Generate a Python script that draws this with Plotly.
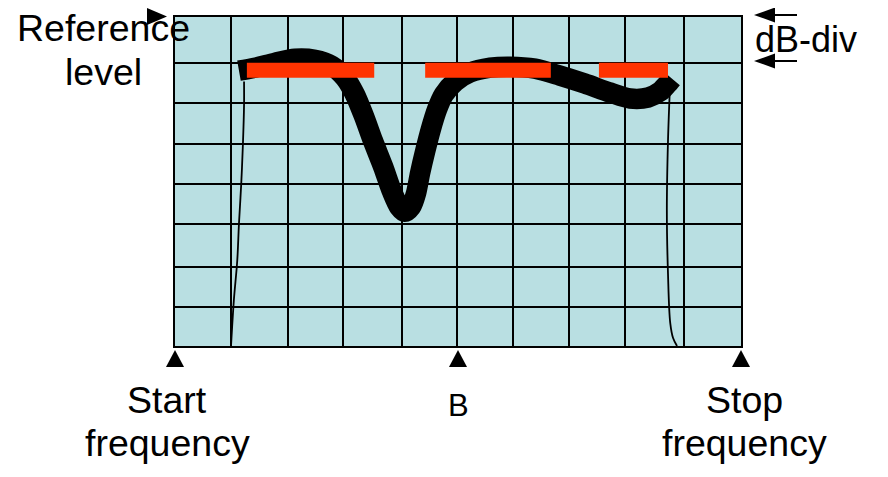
import plotly.graph_objects as go

# ---------------- data ----------------
# x: frequency in screen divisions (0 = start, 10 = stop); y: level in dB below reference (10 dB/div)
trace_x = [1.13, 1.41, 1.77, 2.12, 2.47, 2.77, 3.00, 3.18, 3.34, 3.50, 3.68, 3.83, 3.96, 4.06,
           4.17, 4.26, 4.33, 4.42, 4.52, 4.63, 4.75, 4.95, 5.21, 5.57, 5.92, 6.36, 6.80, 7.24,
           7.69, 8.04, 8.36, 8.57, 8.69, 8.78]
trace_db = [-13.05, -12.33, -11.12, -10.15, -10.39, -11.84, -14.74, -18.85, -24.17, -30.21,
            -36.50, -42.30, -46.16, -47.37, -46.16, -42.78, -37.95, -32.63, -27.31, -22.48,
            -18.85, -15.71, -13.53, -12.33, -12.08, -12.57, -14.26, -16.19, -18.37, -19.82,
            -19.58, -18.13, -16.44, -14.98]

left_skirt_x = [0.99, 1.04, 1.10, 1.13, 1.17, 1.20, 1.22, 1.22]
left_skirt_db = [-80.0, -68.88, -59.21, -50.27, -40.60, -30.94, -21.27, -15.71]

right_skirt_x = [8.75, 8.71, 8.69, 8.71, 8.75, 8.80, 8.87]
right_skirt_db = [-15.23, -30.21, -47.13, -62.36, -74.44, -78.07, -80.0]

limit_start = [1.27, 4.42, 7.49]
limit_stop = [3.52, 6.64, 8.71]
limit_level = [-12.93, -12.93, -12.93]

freq_marker_x = [0, 5, 10]
freq_marker_labels = ["Start\nfrequency", "B", "Stop\nfrequency"]

ref_label = "Reference\nlevel"
div_label = "dB-div"

# ---------------- style / layout constants ----------------
OFF = 8                      # default page margin around the figure
PAGE_W, PAGE_H = 888, 477
W, H = PAGE_W - OFF, PAGE_H - OFF
PL, PR, PT, PB = 175, 741, 15, 346   # plot area in page pixels
L, T = PL - OFF, PT - OFF
R, B = PAGE_W - PR, PAGE_H - PB
PW, PH = PR - PL, PB - PT
X_RANGE = [0, 10]
Y_RANGE = [-80, 0]
BG = "#B9DFE2"
RED = "#FF3300"
FONT = "Liberation Sans, Arial, sans-serif"
x_grid = [0, 0.99, 2.0, 2.97, 4.01, 4.98, 5.97, 6.96, 7.95, 8.99, 10]
y_grid = [0, -11.12, -21.03, -30.94, -40.60, -50.27, -60.91, -70.57, -80]


def px_x(px):
    return (px - PL) / PW


def px_y(py):
    return (PB - py) / PH


def data_to_paper_x(v):
    return (v - X_RANGE[0]) / (X_RANGE[1] - X_RANGE[0])


fig = go.Figure()

fig.add_trace(go.Scatter(x=left_skirt_x, y=left_skirt_db, mode="lines",
                         line=dict(color="black", width=1.8, shape="spline"),
                         hoverinfo="skip", showlegend=False))
fig.add_trace(go.Scatter(x=right_skirt_x, y=right_skirt_db, mode="lines",
                         line=dict(color="black", width=1.8, shape="spline"),
                         hoverinfo="skip", showlegend=False))
fig.add_trace(go.Scatter(x=trace_x, y=trace_db, mode="lines",
                         line=dict(color="black", width=20.5, shape="spline", smoothing=0.8),
                         hoverinfo="skip", showlegend=False))
for xs, xe, lv in zip(limit_start, limit_stop, limit_level):
    fig.add_trace(go.Scatter(x=[xs, xe], y=[lv, lv], mode="lines",
                             line=dict(color=RED, width=15),
                             hoverinfo="skip", showlegend=False))

shapes = []


def pix_path(points, xanchor=0.0, fill="black", line_w=0, closed=True):
    # points given as pixel offsets relative to anchor (y up)
    d = "M" + " L".join(f"{a},{b}" for a, b in points) + (" Z" if closed else "")
    return dict(type="path", xref="paper", yref="paper", xsizemode="pixel", ysizemode="pixel",
                xanchor=xanchor, yanchor=0, path=d,
                fillcolor=fill if closed else None,
                line=dict(color="black", width=line_w), layer="above")


def abs_pts(pts):
    return [(px - PL, PB - py) for px, py in pts]


# reference-level arrow head
shapes.append(pix_path(abs_pts([(167, 16.5), (147, 8), (147, 25)])))
# dB-div arrows
for yy in (15, 61):
    shapes.append(pix_path(abs_pts([(754, yy), (775, yy - 7.5), (775, yy + 7.5)])))
    shapes.append(pix_path(abs_pts([(772, yy), (797, yy)]), fill=None, line_w=2, closed=False))
# frequency markers (up triangles below the grid)
for fx in freq_marker_x:
    shapes.append(pix_path([(0, -4), (-9, -21), (9, -21)], xanchor=data_to_paper_x(fx)))

annotations = []


def text_lines(lines, cx, baselines, size, x=None, xshift=0):
    for ln, bl in zip(lines, baselines):
        cy = bl - 0.3465 * size
        annotations.append(dict(
            text=ln, showarrow=False, xref="paper", yref="paper",
            x=px_x(cx) if x is None else x, y=px_y(cy), xshift=xshift,
            xanchor="center", yanchor="middle",
            font=dict(family=FONT, size=size, color="black")))


text_lines(ref_label.split("\n"), 103, [39, 83], 37.5)
text_lines([div_label], 806, [50], 36)
label_shift = [-8, 0, 3]
for fx, lab, sh in zip(freq_marker_x, freq_marker_labels, label_shift):
    lines = lab.split("\n")
    if len(lines) == 2:
        text_lines(lines, None, [413, 457], 37.5, x=data_to_paper_x(fx), xshift=sh)
    else:
        text_lines(lines, None, [417], 31, x=data_to_paper_x(fx), xshift=sh)

axis_common = dict(showticklabels=False, ticks="", showgrid=True, gridcolor="black",
                   gridwidth=2, zeroline=False, showline=True, linecolor="black",
                   linewidth=2, mirror=True, tickmode="array", fixedrange=True)

fig.update_layout(
    width=W, height=H,
    margin=dict(l=L, r=R, t=T, b=B, pad=0),
    paper_bgcolor="white", plot_bgcolor=BG,
    xaxis=dict(range=X_RANGE, tickvals=x_grid, **axis_common),
    yaxis=dict(range=Y_RANGE, tickvals=y_grid, **axis_common),
    shapes=shapes, annotations=annotations, showlegend=False,
)

fig.write_html("out.html")
